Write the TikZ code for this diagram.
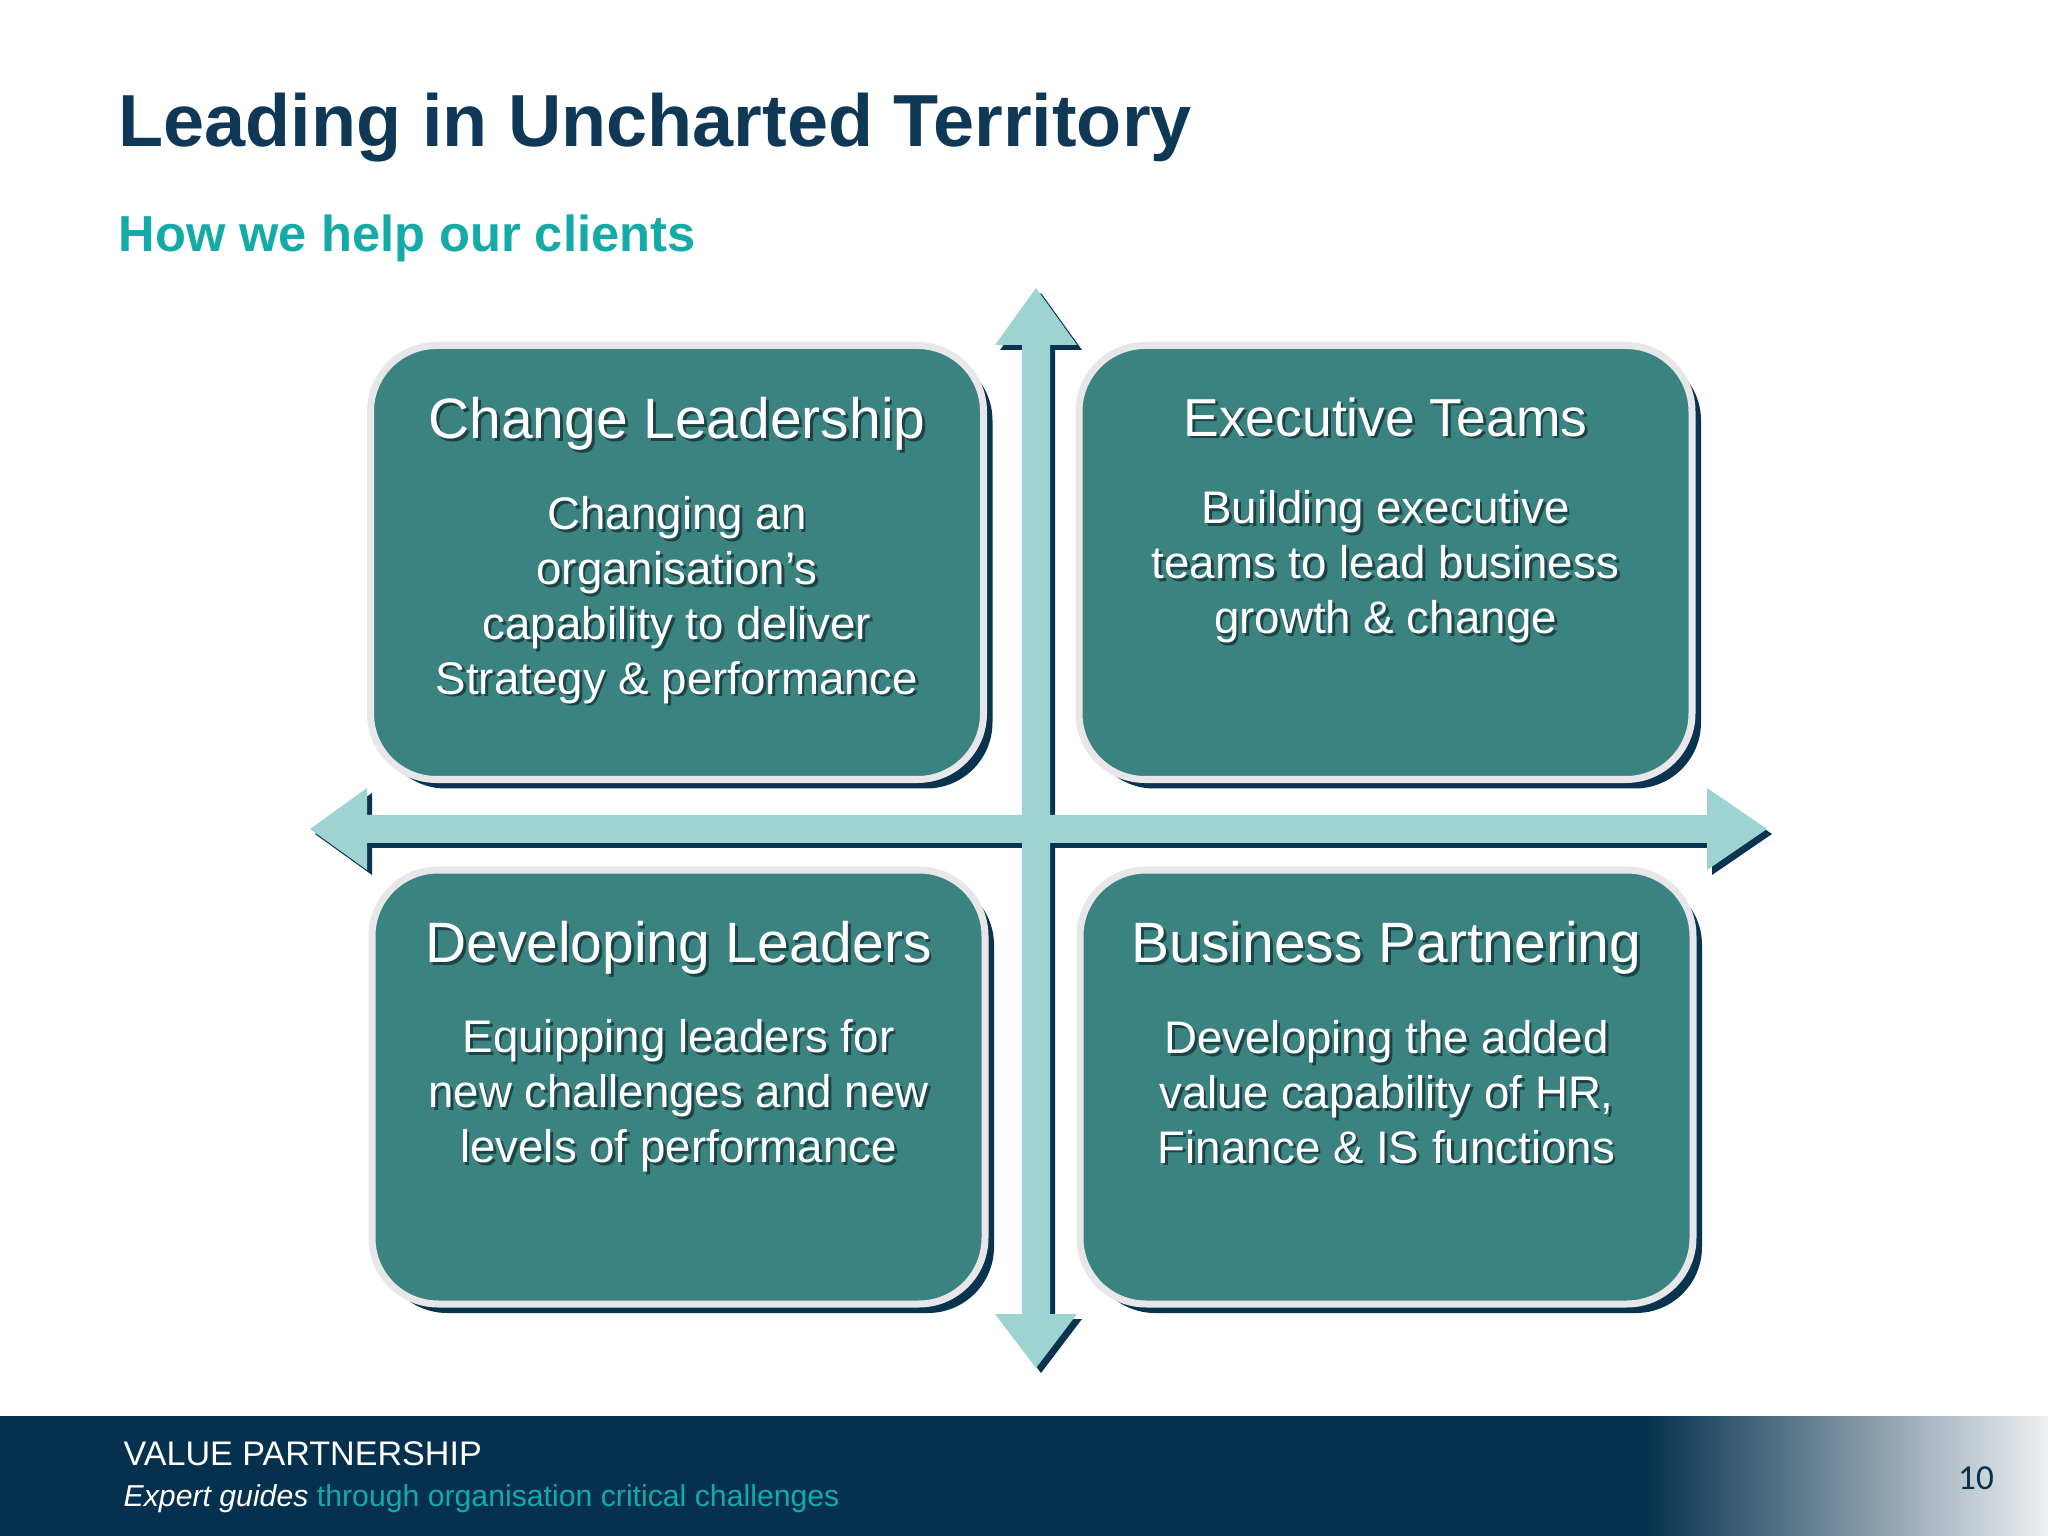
\documentclass[tikz,border=0pt]{standalone}
\usepackage{fontspec}
\setmainfont{Liberation Sans}
\newfontfamily\pagenumfont{Carlito}
\usetikzlibrary{shadows,positioning}
\definecolor{TitleNavy}{HTML}{0F3856}
\definecolor{SubTeal}{HTML}{13AAA7}
\definecolor{QuadTeal}{HTML}{3B8381}
\definecolor{QuadRim}{HTML}{E7E7EA}
\definecolor{ShadowNavy}{HTML}{0A3350}
\definecolor{ArrowTeal}{HTML}{9DD4D2}
\definecolor{FooterNavy}{HTML}{05314E}
\definecolor{FooterFade}{HTML}{EEF0F2}
\definecolor{TextShade}{HTML}{1C4446}

% white text with a dark cast shadow: name, position, style, text
\newcommand{\shadowed}[4]{%
  \node[#3, text=TextShade, xshift=0.8pt, yshift=-0.8pt] (#1s) at #2 {#4};
  \node[#3] (#1) at #2 {#4};}

\begin{document}
\begin{tikzpicture}[
    quad/.style={rectangle, rounded corners=0.66cm, draw=QuadRim,
                 line width=0.07cm, fill=QuadTeal, inner sep=0pt,
                 minimum width=6.13cm, minimum height=4.34cm,
                 drop shadow={shadow xshift=0.09cm, shadow yshift=-0.09cm,
                              fill=ShadowNavy, opacity=1}},
    qtitle/.style={text=white, inner sep=0pt,
                   font=\fontsize{16.2}{19.4}\selectfont},
    qbody/.style={text=white, inner sep=0pt, align=center,
                  font=\fontsize{13}{15.6}\selectfont},
    cross/.style={fill=ArrowTeal,
                  drop shadow={shadow xshift=0.05cm, shadow yshift=-0.05cm,
                               fill=ShadowNavy, opacity=1}},
    foot/.style={anchor=base west, inner sep=0pt}
  ]
    \useasboundingbox (0,0) rectangle (20.48,-15.36);

    \node[anchor=base west, inner sep=0pt, text=TitleNavy,
          font=\bfseries\fontsize{21}{25}\selectfont] (title) at (1.18,-1.47)
          {Leading in Uncharted Territory};
    \node[anchor=base west, inner sep=0pt, text=SubTeal,
          font=\bfseries\fontsize{14.4}{17}\selectfont] (subtitle) at (1.18,-2.52)
          {How we help our clients};

    % the two axes
    \path[cross] (10.36,-2.88) -- (10.77,-3.45) -- (10.50,-3.45) -- (10.50,-8.15)
      -- (17.07,-8.15) -- (17.07,-7.88) -- (17.67,-8.29) -- (17.07,-8.70)
      -- (17.07,-8.43) -- (10.50,-8.43) -- (10.50,-13.14) -- (10.77,-13.14)
      -- (10.36,-13.68) -- (9.95,-13.14) -- (10.22,-13.14) -- (10.22,-8.43)
      -- (3.67,-8.43) -- (3.67,-8.70) -- (3.10,-8.29) -- (3.67,-7.88)
      -- (3.67,-8.15) -- (10.22,-8.15) -- (10.22,-3.45) -- (9.95,-3.45) -- cycle;

    \node[quad] (tl) at (6.77,-5.625) {};
    \node[quad] (tr) at (13.855,-5.625) {};
    \node[quad] (bl) at (6.785,-10.87) {};
    \node[quad] (br) at (13.865,-10.87) {};

    \shadowed{tlt}{(6.77,-4.24)}{qtitle}{Change Leadership}
    \shadowed{tlb}{(6.77,-6.0)}{qbody}{Changing an\\organisation’s\\capability to deliver\\Strategy \& performance}
    \shadowed{trt}{(13.855,-4.17)}{qtitle, font=\fontsize{15.2}{18}\selectfont}{Executive Teams}
    \shadowed{trb}{(13.855,-5.67)}{qbody}{Building executive\\teams to lead business\\growth \& change}
    \shadowed{blt}{(6.785,-9.48)}{qtitle}{Developing Leaders}
    \shadowed{blb}{(6.785,-10.96)}{qbody}{Equipping leaders for\\new challenges and new\\levels of performance}
    \shadowed{brt}{(13.865,-9.48)}{qtitle}{Business Partnering}
    \shadowed{brb}{(13.865,-10.92)}{qbody}{Developing the added\\value capability of HR,\\Finance \& IS functions}

    % footer band
    \fill[FooterNavy] (0,-14.16) rectangle (16.46,-15.36);
    \shade[left color=FooterNavy, right color=FooterFade]
      (16.45,-14.16) rectangle (20.48,-15.36);
    \node[foot, text=white, font=\fontsize{9.7}{11}\selectfont] (brand) at (1.23,-14.65)
      {VALUE PARTNERSHIP};
    \node[foot, font=\fontsize{8.6}{10}\selectfont] (motto) at (1.23,-15.06)
      {\textcolor{white}{\itshape Expert guides} \textcolor{SubTeal}{through organisation critical challenges}};
    \node[text=FooterNavy, font=\pagenumfont\fontsize{10}{12}\selectfont] (pagenum) at (19.76,-14.78) {10};
  \end{tikzpicture}
\end{document}
